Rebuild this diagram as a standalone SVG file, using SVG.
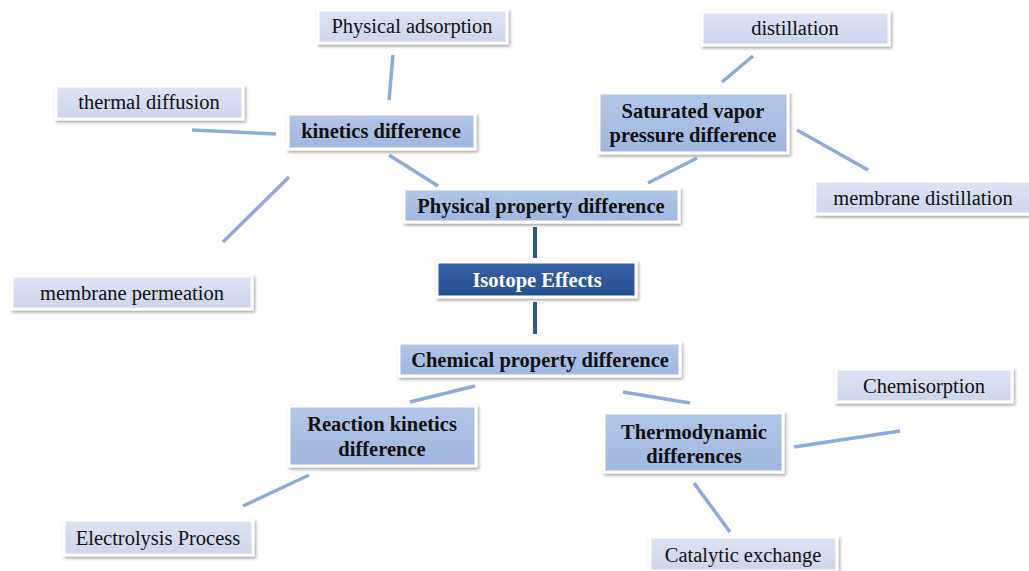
<svg xmlns="http://www.w3.org/2000/svg" width="1029" height="571" viewBox="0 0 1029 571">
<defs>
<filter id="sh" x="-10%" y="-20%" width="125%" height="150%">
<feDropShadow dx="1.5" dy="2" stdDeviation="1.8" flood-color="#000" flood-opacity="0.35"/>
</filter>
<linearGradient id="gl" x1="0" y1="0" x2="0" y2="1">
<stop offset="0" stop-color="#dde3f2"/><stop offset="1" stop-color="#cdd5ea"/>
</linearGradient>
<linearGradient id="gm" x1="0" y1="0" x2="0" y2="1">
<stop offset="0" stop-color="#b3c6e6"/><stop offset="1" stop-color="#9fb6de"/>
</linearGradient>
<linearGradient id="gc" x1="0" y1="0" x2="0" y2="1">
<stop offset="0" stop-color="#3560a8"/><stop offset="1" stop-color="#2a4f8f"/>
</linearGradient>
</defs>
<style>
.leaf{fill:url(#gl);stroke:#fff;stroke-width:3;filter:url(#sh)}
.mid{fill:url(#gm);stroke:#fff;stroke-width:3;filter:url(#sh)}
.core{fill:url(#gc);stroke:#fff;stroke-width:3;filter:url(#sh)}
text{font-family:"Liberation Serif","Times New Roman",serif;font-size:20.5px;text-anchor:middle;fill:#111}
.b{font-weight:bold}
.w{fill:#fff}
.c line{stroke:#8eaadb;stroke-width:3.5}
.c line.d{stroke:#2f5597;stroke-width:4}
</style>
<rect width="1029" height="571" fill="#fff"/>
<g class="c" id="connectors">
<line x1="393" y1="55" x2="389" y2="100"/>
<line x1="192" y1="130" x2="276" y2="134"/>
<line x1="289" y1="177" x2="223" y2="242"/>
<line x1="389" y1="155" x2="438" y2="186"/>
<line x1="753" y1="56" x2="722" y2="82"/>
<line x1="797" y1="130" x2="868" y2="170"/>
<line x1="697" y1="158" x2="648" y2="183"/>
<line class="d" x1="535" y1="227" x2="535" y2="258"/>
<line class="d" x1="535" y1="302" x2="535" y2="334"/>
<line x1="475" y1="386" x2="410" y2="402"/>
<line x1="623" y1="392" x2="690" y2="403"/>
<line x1="309" y1="475" x2="243" y2="506"/>
<line x1="794" y1="447" x2="900" y2="431"/>
<line x1="694" y1="483" x2="730" y2="532"/>
</g>
<g id="physical-adsorption"><rect class="leaf" x="318" y="10" width="189" height="33"/><text x="412" y="33">Physical adsorption</text></g>
<g id="distillation"><rect class="leaf" x="702" y="12" width="187" height="33"/><text x="795" y="35">distillation</text></g>
<g id="thermal-diffusion"><rect class="leaf" x="56" y="86" width="187" height="33"/><text x="149" y="109">thermal diffusion</text></g>
<g id="kinetics-difference"><rect class="mid" x="288" y="114" width="187" height="35"/><text class="b" x="381" y="138">kinetics difference</text></g>
<g id="saturated-vapor"><rect class="mid" x="599" y="93" width="189" height="60"/><text class="b" x="693" y="118">Saturated vapor</text><text class="b" x="693" y="142">pressure difference</text></g>
<g id="physical-property"><rect class="mid" x="404" y="189" width="275" height="33"/><text class="b" x="541" y="213">Physical property difference</text></g>
<g id="membrane-distillation"><rect class="leaf" x="815" y="181" width="216" height="33"/><text x="923" y="205">membrane distillation</text></g>
<g id="membrane-permeation"><rect class="leaf" x="12" y="276" width="240" height="33"/><text x="132" y="300">membrane permeation</text></g>
<g id="isotope-effects"><rect class="core" x="437" y="262" width="199" height="35"/><text class="b w" x="537" y="287">Isotope Effects</text></g>
<g id="chemical-property"><rect class="mid" x="399" y="343" width="281" height="33"/><text class="b" x="540" y="367">Chemical property difference</text></g>
<g id="chemisorption"><rect class="leaf" x="836" y="369" width="176" height="33"/><text x="924" y="393">Chemisorption</text></g>
<g id="reaction-kinetics"><rect class="mid" x="289" y="406" width="187" height="60"/><text class="b" x="382" y="431">Reaction kinetics</text><text class="b" x="382" y="456">difference</text></g>
<g id="thermodynamic"><rect class="mid" x="604" y="413" width="179" height="59"/><text class="b" x="694" y="439">Thermodynamic</text><text class="b" x="694" y="463">differences</text></g>
<g id="electrolysis"><rect class="leaf" x="64" y="520" width="189" height="35"/><text x="158" y="545">Electrolysis Process</text></g>
<g id="catalytic-exchange"><rect class="leaf" x="650" y="537" width="187" height="34"/><text x="743" y="562">Catalytic exchange</text></g>
</svg>
